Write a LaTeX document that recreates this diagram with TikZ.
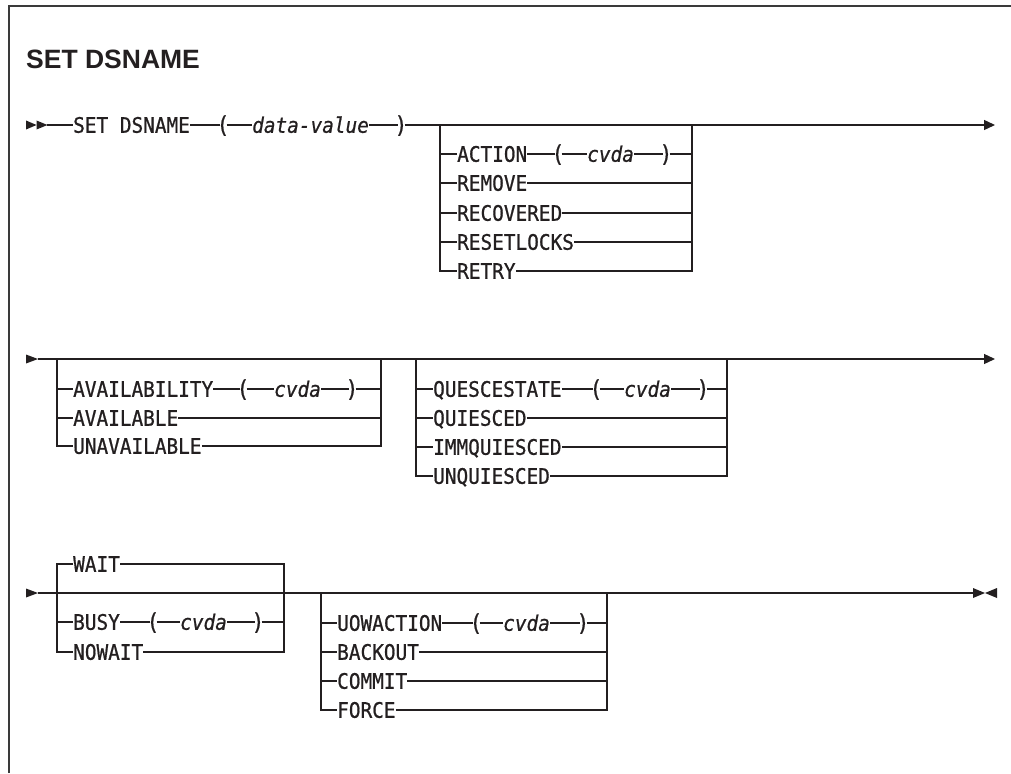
\documentclass[tikz,border=0pt]{standalone}
\usepackage{fontspec}
\usetikzlibrary{arrows.meta}
\newfontfamily\synmono[FakeStretch=0.91,FakeBold=0.8]{DejaVu Sans Mono}
\newfontfamily\titlefont{Liberation Sans}
\definecolor{ink}{HTML}{231F20}
\definecolor{framec}{HTML}{3A3A3A}
\tikzset{
  ln/.style={line width=1.3pt, draw=ink},
  endtip/.style={ln, -{Triangle[length=11pt,width=10pt]}},
  kw/.style={font=\synmono\fontsize{21.3}{24}\selectfont, text=ink, inner sep=0pt,
             text height=15.5pt, text depth=0pt, anchor=west},
  var/.style={kw, font=\synmono\itshape\fontsize{21.3}{24}\selectfont},
  par/.style={kw, anchor=center, inner xsep=-3pt, font=\synmono\fontsize{23}{24}\selectfont},
  arrowfill/.style={fill=ink, draw=none},
  frameline/.style={line width=1.8pt, draw=framec},
}
\begin{document}
\begin{tikzpicture}[x=1pt,y=-1pt]
\useasboundingbox (0,0) rectangle (1011,773);
% frame
\coordinate (fb) at (9,773);
\coordinate (fc) at (9,6);
\coordinate (fr) at (1011,6);
\draw[frameline] (fb) -- (fc) -- (fr);
% title
\node[anchor=base west, inner sep=0pt, text=ink, font=\titlefont\bfseries\fontsize{26.5}{30}\selectfont] (title) at (26,69) {SET DSNAME};

% ---------------- Row 1 ----------------
\fill[arrowfill] (26,120.5) -- (36.5,125) -- (26,129.5) -- cycle;
\fill[arrowfill] (36.5,120.5) -- (47.5,125) -- (36.5,129.5) -- cycle;
\coordinate (s1) at (47,125);
\node[kw] (set) at (73,125) {SET DSNAME};
\node[par] (lp1) at (223,125) {(};
\node[var] (dv) at (252,125) {data-value};
\node[par] (rp1) at (401,125) {)};
\coordinate (e1) at (995,125);
\draw[ln] (s1) -- (set.west);
\draw[ln] (set.east) -- (lp1.west);
\draw[ln] (lp1.east) -- (dv.west);
\draw[ln] (dv.east) -- (rp1.west);
\draw[endtip] (rp1.east) -- (e1);

% box 1
\coordinate (b1l) at (440,125);
\coordinate (b1r) at (692,125);
\node[kw] (action) at (457,154) {ACTION};
\node[par] (lp2) at (558,154) {(};
\node[var] (cv1) at (587,154) {cvda};
\node[par] (rp2) at (666,154) {)};
\node[kw] (remove) at (457,183) {REMOVE};
\node[kw] (recovered) at (457,213) {RECOVERED};
\node[kw] (resetlocks) at (457,242) {RESETLOCKS};
\node[kw] (retry) at (457,271) {RETRY};
\draw[ln] (b1l) |- (retry.west);
\draw[ln] (retry.east) -| (b1r);
\foreach \n in {action,remove,recovered,resetlocks} \draw[ln] (b1l |- \n.west) -- (\n.west);
\foreach \n in {rp2,remove,recovered,resetlocks} \draw[ln] (\n.east) -- (b1r |- \n.east);
\draw[ln] (action.east) -- (lp2.west);
\draw[ln] (lp2.east) -- (cv1.west);
\draw[ln] (cv1.east) -- (rp2.west);

% ---------------- Row 2 ----------------
\fill[arrowfill] (26,354.5) -- (38,359) -- (26,363.5) -- cycle;
\coordinate (s2) at (38,359);
\coordinate (e2) at (995,359);
\draw[endtip] (s2) -- (e2);

% box 2
\coordinate (b2l) at (57,359);
\coordinate (b2r) at (381,359);
\node[kw] (availability) at (73,389) {AVAILABILITY};
\node[par] (lp3) at (243,389) {(};
\node[var] (cv2) at (274,389) {cvda};
\node[par] (rp3) at (352,389) {)};
\node[kw] (available) at (73,418) {AVAILABLE};
\node[kw] (unavailable) at (73,446) {UNAVAILABLE};
\draw[ln] (b2l) |- (unavailable.west);
\draw[ln] (unavailable.east) -| (b2r);
\foreach \n in {availability,available} \draw[ln] (b2l |- \n.west) -- (\n.west);
\foreach \n in {rp3,available} \draw[ln] (\n.east) -- (b2r |- \n.east);
\draw[ln] (availability.east) -- (lp3.west);
\draw[ln] (lp3.east) -- (cv2.west);
\draw[ln] (cv2.east) -- (rp3.west);

% box 3
\coordinate (b3l) at (416,359);
\coordinate (b3r) at (727,359);
\node[kw] (quescestate) at (433,389) {QUESCESTATE};
\node[par] (lp4) at (596,389) {(};
\node[var] (cv3) at (624,389) {cvda};
\node[par] (rp4) at (703,389) {)};
\node[kw] (quiesced) at (433,418) {QUIESCED};
\node[kw] (immquiesced) at (433,447) {IMMQUIESCED};
\node[kw] (unquiesced) at (433,476) {UNQUIESCED};
\draw[ln] (b3l) |- (unquiesced.west);
\draw[ln] (unquiesced.east) -| (b3r);
\foreach \n in {quescestate,quiesced,immquiesced} \draw[ln] (b3l |- \n.west) -- (\n.west);
\foreach \n in {rp4,quiesced,immquiesced} \draw[ln] (\n.east) -- (b3r |- \n.east);
\draw[ln] (quescestate.east) -- (lp4.west);
\draw[ln] (lp4.east) -- (cv3.west);
\draw[ln] (cv3.east) -- (rp4.west);

% ---------------- Row 3 ----------------
\fill[arrowfill] (26,588.5) -- (38,593) -- (26,597.5) -- cycle;
\coordinate (s3) at (38,593);
\coordinate (e3) at (973,593);
\draw[ln] (s3) -- (e3);
\fill[arrowfill] (973,588) -- (985,593) -- (973,598) -- cycle;
\fill[arrowfill] (997,588) -- (985,593) -- (997,598) -- cycle;

% box 4
\coordinate (b4bl) at (57,652);
\coordinate (b4br) at (284,652);
\node[kw] (wait) at (73,564) {WAIT};
\node[kw] (busy) at (73,622) {BUSY};
\node[par] (lp5) at (153,622) {(};
\node[var] (cv4) at (180,622) {cvda};
\node[par] (rp5) at (258,622) {)};
\node[kw] (nowait) at (73,652) {NOWAIT};
\draw[ln] (wait.west) -| (b4bl) -- (nowait.west);
\draw[ln] (wait.east) -| (b4br) -- (nowait.east);
\draw[ln] (b4bl |- busy.west) -- (busy.west);
\draw[ln] (rp5.east) -- (b4br |- rp5.east);
\draw[ln] (busy.east) -- (lp5.west);
\draw[ln] (lp5.east) -- (cv4.west);
\draw[ln] (cv4.east) -- (rp5.west);

% box 5
\coordinate (b5l) at (321,593);
\coordinate (b5r) at (607,593);
\node[kw] (uowaction) at (337,623) {UOWACTION};
\node[par] (lp6) at (476,623) {(};
\node[var] (cv5) at (503,623) {cvda};
\node[par] (rp6) at (583,623) {)};
\node[kw] (backout) at (337,652) {BACKOUT};
\node[kw] (commit) at (337,681) {COMMIT};
\node[kw] (force) at (337,710) {FORCE};
\draw[ln] (b5l) |- (force.west);
\draw[ln] (force.east) -| (b5r);
\foreach \n in {uowaction,backout,commit} \draw[ln] (b5l |- \n.west) -- (\n.west);
\foreach \n in {rp6,backout,commit} \draw[ln] (\n.east) -- (b5r |- \n.east);
\draw[ln] (uowaction.east) -- (lp6.west);
\draw[ln] (lp6.east) -- (cv5.west);
\draw[ln] (cv5.east) -- (rp6.west);
\end{tikzpicture}
\end{document}
